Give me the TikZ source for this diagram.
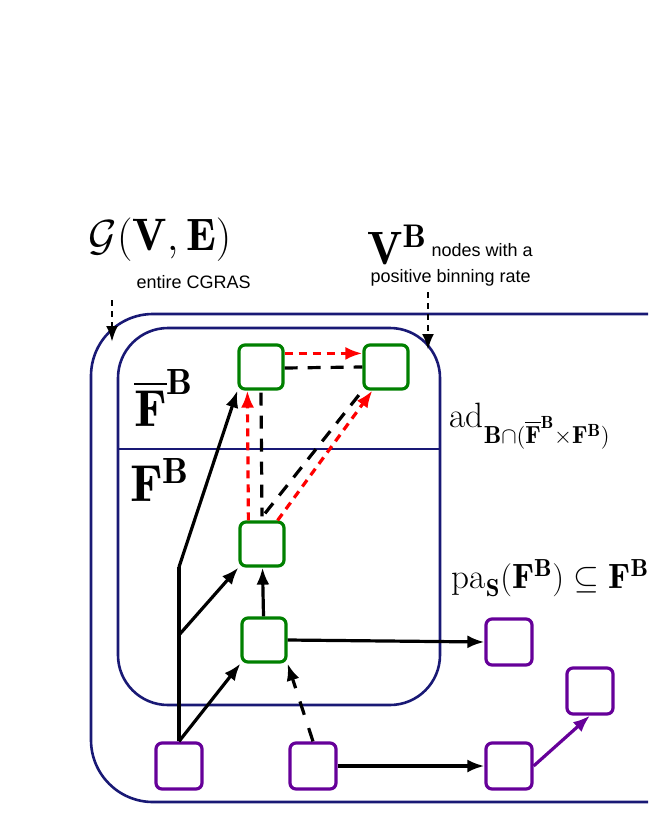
\documentclass[tikz,border=0pt]{standalone}
\usepackage{fontspec}
\usepackage{amsmath,amssymb}
\newfontfamily\sfx{Liberation Sans}
\usetikzlibrary{arrows.meta,calc}
\begin{document}
\begin{tikzpicture}[x=1pt,y=-1pt,
  gbox/.style={draw=green!50!black,line width=3.2pt,rounded corners=6pt,minimum width=44pt,minimum height=44pt,inner sep=0pt},
  pbox/.style={draw=violet!80!blue,line width=3.2pt,rounded corners=6pt,minimum width=46pt,minimum height=46pt,inner sep=0pt},
  blk/.style={line width=3.2pt,-{Latex[length=17pt,width=13pt]}},
  edge/.style={line width=3.2pt},
  rdash/.style={draw=red,line width=3.2pt,dash pattern=on 8pt off 6pt,-{Latex[length=17pt,width=13pt]}},
  kdash/.style={line width=3.2pt,dash pattern=on 13pt off 10pt},
  frame/.style={draw=blue!40!black!90,line width=2.6pt}]
\useasboundingbox (0,0) rectangle (648,838);
\clip (0,0) rectangle (648,838);
\draw[frame,rounded corners=62pt] (91,314) rectangle (720,802);
\draw[frame,rounded corners=50pt] (118,328) rectangle (440,705);
\draw[frame] (118,449) -- (440,449);
\node[gbox] (g1) at (261,367) {};
\node[gbox] (g2) at (386,367) {};
\node[gbox] (g3) at (262,544) {};
\node[gbox] (g4) at (264,640) {};
\node[pbox] (p1) at (179,766) {};
\node[pbox] (p2) at (313,766) {};
\node[pbox] (p3) at (509,642) {};
\node[pbox] (p4) at (590,691) {};
\node[pbox] (p5) at (509,766) {};
\coordinate (bend) at (179,567);
\coordinate (br) at (179,635);
\draw[edge] (p1.north) -- (bend);
\draw[blk] (bend) -- (g1.south west);
\draw[blk] (br) -- (g3.south west);
\draw[blk] (p1.north) -- (g4.south west);
\draw[blk] (g4) -- (g3);
\draw[blk] (g4.east) -- (p3.west);
\draw[blk,dash pattern=on 14pt off 14pt] (p2.north) -- (g4.south east);
\draw[blk] (p2.east) -- (p5.west);
\draw[blk,draw=violet!80!blue,-{Latex[length=17pt,width=13pt,fill=violet!80!blue]}] (p5.east) -- (p4.south);
\draw[kdash] ($(g1.south)+(0,2)$) -- ($(g3.north)+(0,-4)$);
\draw[rdash] ($(g3.north west)+(10,0)$) -- ($(g1.south west)+(10,0)$);
\draw[kdash] ($(g3.north)+(3,-7)$) -- (g2.south west);
\draw[rdash] ($(g3.north east)+(-8,0)$) -- ($(g2.south west)+(10,0)$);
\draw[kdash] ($(g1.east)+(0,1)$) -- (g2.west);
\draw[rdash] ($(g1.north east)+(0,10)$) -- ($(g2.north west)+(0,10)$);
\node[scale=1.75] at (160,240) {\fontsize{26}{30}\selectfont$\mathcal{G}(\mathbf{V},\mathbf{E})$};
\node[anchor=west] at (133,282) {\sfx\fontsize{18}{20}\selectfont entire CGRAS};
\node[scale=1.8] (vb) at (397,245) {\fontsize{26}{30}\selectfont$\mathbf{V}^{\mathbf{B}}$};
\node[anchor=west] at (428,250) {\sfx\fontsize{18}{20}\selectfont nodes with a};
\node[anchor=west] at (367,278) {\sfx\fontsize{18}{20}\selectfont positive binning rate};
\coordinate (a1) at (112,300);
\coordinate (a1e) at (112,342);
\coordinate (a2) at (428,292);
\coordinate (a2e) at (428,350);
\draw[line width=2.8pt,dash pattern=on 6pt off 5pt,-{Latex[length=16pt,width=12pt]}] (a1) -- (a1e);
\draw[line width=2.8pt,dash pattern=on 6pt off 5pt,-{Latex[length=16pt,width=12pt]}] (a2) -- (a2e);
\node[scale=2] at (164,398) {\fontsize{26}{30}\selectfont$\overline{\mathbf{F}}^{\mathbf{B}}$};
\node[scale=2] at (160,480) {\fontsize{26}{30}\selectfont$\mathbf{F}^{\mathbf{B}}$};
\node[anchor=west,scale=1.6] at (444,426) {\fontsize{22}{26}\selectfont$\mathrm{ad}_{\mathbf{B}\cap(\overline{\mathbf{F}}^{\mathbf{B}}\times\mathbf{F}^{\mathbf{B}})}$};
\node[anchor=west,scale=1.6] at (446,578) {\fontsize{22}{26}\selectfont$\mathrm{pa}_{\mathbf{S}}(\mathbf{F}^{\mathbf{B}})\subseteq\mathbf{F}^{\mathbf{B}}$};
\end{tikzpicture}
\end{document}
